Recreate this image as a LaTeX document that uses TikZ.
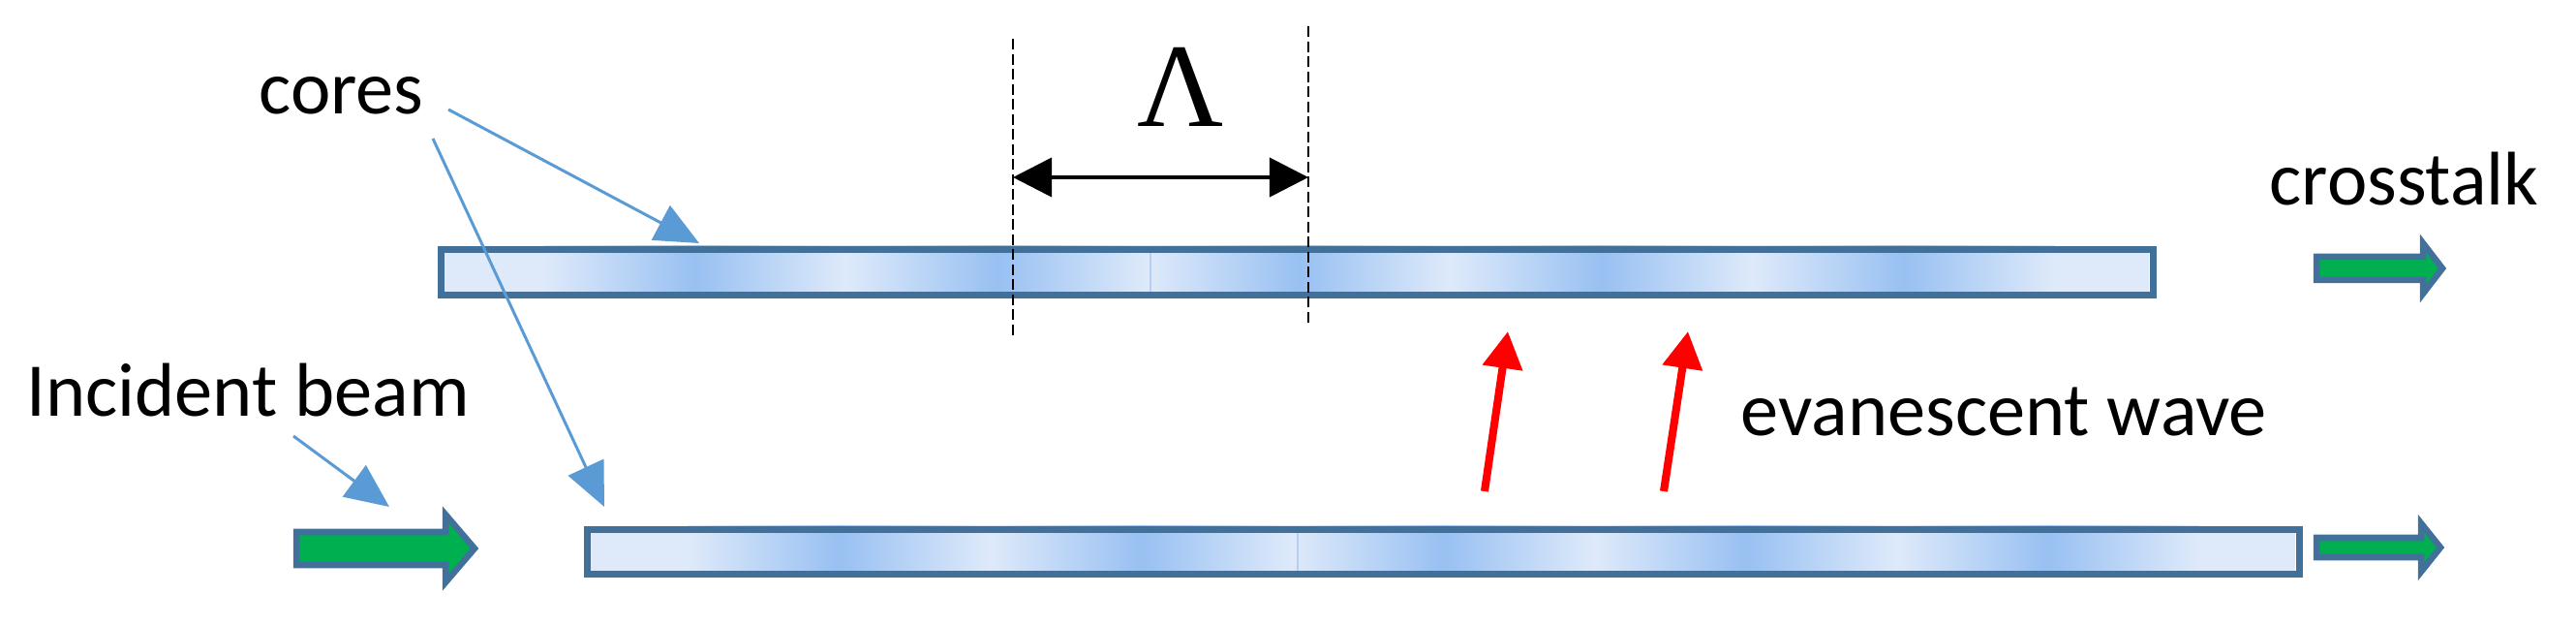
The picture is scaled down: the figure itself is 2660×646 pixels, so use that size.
\documentclass[tikz,border=0pt]{standalone}
\usepackage{fontspec}
\setmainfont{Carlito}
\newfontfamily\lamfont{Liberation Serif}
\usetikzlibrary{arrows.meta}
\definecolor{coreborder}{RGB}{65,112,155}
\definecolor{corelight}{RGB}{222,234,250}
\definecolor{coredark}{RGB}{152,192,242}
\definecolor{coreseam}{RGB}{180,207,243}
\definecolor{callout}{RGB}{91,155,213}
\definecolor{beamgreen}{RGB}{0,176,80}
\begin{document}
\begin{tikzpicture}[x=0.01cm,y=-0.01cm,
  lbl/.style={font=\fontsize{22.3}{26}\selectfont, anchor=base west, inner sep=0pt},
  corebox/.style={draw=coreborder, line width=1.85pt, inner sep=0pt, anchor=north west,
                  minimum width=17.67cm, minimum height=0.47cm},
  callarrow/.style={draw=callout, line width=0.85pt, -{Triangle[length=0.45cm,width=0.40cm]}},
  redarrow/.style={draw=red, line width=2.3pt, -{Triangle[length=0.38cm,width=0.40cm]}},
  dimarrow/.style={draw=black, line width=1.1pt, {Triangle[length=0.40cm,width=0.40cm]}-{Triangle[length=0.40cm,width=0.40cm]}},
  dashline/.style={draw=black, line width=0.7pt, dash pattern=on 0.11cm off 0.045cm},
  greenarrow/.style={fill=beamgreen, draw=coreborder, line width=1.85pt, line join=miter}
]
\useasboundingbox (0,0) rectangle (2660,646);

% ---- labels with callouts
\node[lbl] (cores) at (267,118) {cores};
\node[lbl] (incident) at (27,430) {Incident beam};
\coordinate (c1s) at (463,113);
\coordinate (c1e) at (722,251);
\coordinate (c2s) at (447,143);
\coordinate (c2e) at (624,523);
\coordinate (ibs) at (303,450);
\coordinate (ibe) at (402,523);
% first callout lies under the top core (its tip is hidden by the core)
\draw[callarrow] (c1s) -- (c1e);

% ---- top core shading
\fill[corelight] (452,254) rectangle (2219,301);
\foreach \a in {561,873,1185,1497,1809}{
  \shade[left color=corelight, right color=coredark] (\a,254) rectangle ++(157,47);
  \shade[left color=coredark, right color=corelight] (\a+156,254) rectangle ++(157,47);
}
\draw[coreseam, line width=0.7pt] (1188,254) -- (1188,301);
\node[corebox] (topcore) at (452,254) {};

% ---- bottom core shading
\fill[corelight] (603,543) rectangle (2370,589);
\foreach \a in {710,1022,1334,1646,1958}{
  \shade[left color=corelight, right color=coredark] (\a,543) rectangle ++(157,46);
  \shade[left color=coredark, right color=corelight] (\a+156,543) rectangle ++(157,46);
}
\draw[coreseam, line width=0.7pt] (1340,543) -- (1340,589);
\node[corebox, minimum height=0.46cm] (botcore) at (603,543) {};

% ---- other callouts (over the cores)
\draw[callarrow] (c2s) -- (c2e);
\draw[callarrow] (ibs) -- (ibe);

% ---- period markers
\coordinate (d1t) at (1046,40);
\coordinate (d1b) at (1046,347);
\coordinate (d2t) at (1351,27);
\coordinate (d2b) at (1351,333);
\draw[dashline] (d1t) -- (d1b);
\draw[dashline] (d2t) -- (d2b);
\coordinate (pl) at (1046,183);
\coordinate (pr) at (1351,183);
\draw[dimarrow] (pl) -- (pr);
\node[inner sep=0pt, font=\lamfont\fontsize{35}{40}\selectfont] (lambda) at (1219,90) {Λ};

% ---- other labels
\node[lbl] (crosstalk) at (2343,212) {crosstalk};
\node[lbl] (evanescent) at (1797,450) {evanescent wave};

% ---- evanescent wave arrows
\coordinate (r1s) at (1533,507);
\coordinate (r1e) at (1557,342);
\coordinate (r2s) at (1718,507);
\coordinate (r2e) at (1743,342);
\draw[redarrow] (r1s) -- (r1e);
\draw[redarrow] (r2s) -- (r2e);

% ---- green block arrows
\draw[greenarrow] (306,549) -- (460,549) -- (460,531) -- (490,566) -- (460,601) -- (460,583) -- (306,583) -- cycle;
\draw[greenarrow] (2392,265) -- (2502,265) -- (2502,251) -- (2522,277) -- (2502,303) -- (2502,289) -- (2392,289) -- cycle;
\draw[greenarrow] (2392,555) -- (2500,555) -- (2500,540) -- (2520,565) -- (2500,590) -- (2500,575) -- (2392,575) -- cycle;
\end{tikzpicture}
\end{document}
